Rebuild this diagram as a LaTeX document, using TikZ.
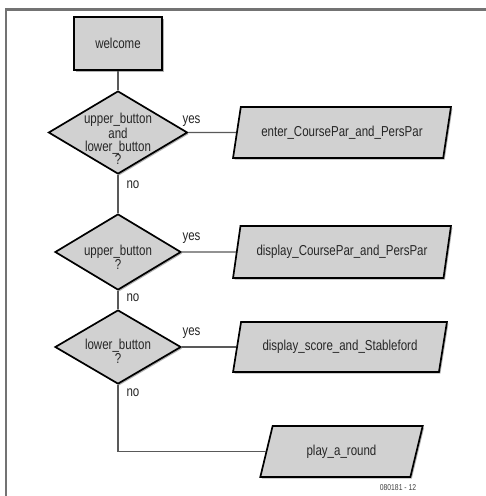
\documentclass[tikz,border=0pt]{standalone}
\usepackage{fontspec}
\setmainfont{Liberation Sans}[FakeStretch=0.8]
\usetikzlibrary{shapes.geometric,shadows}
\begin{document}
\begin{tikzpicture}[x=1pt,y=-1pt,
  txt/.style={font=\fontsize{14.4}{13.3}\selectfont, text=black!85, align=center, inner sep=0pt},
  txtq/.style={font=\fontsize{14.4}{10}\selectfont, text=black!85, align=center, inner sep=0pt},
  shp/.style={draw=black, line width=1.7pt, fill=black!18,
    drop shadow={shadow xshift=1.5pt, shadow yshift=-1.5pt, opacity=0.3, fill=black}},
  procbox/.style={shp, rectangle, minimum width=88pt, minimum height=53pt, inner sep=0pt},
  decision/.style={shp, diamond, inner sep=0pt},
  io/.style={shp, trapezium, trapezium left angle=65, trapezium right angle=115,
    trapezium stretches=true, inner sep=0pt, minimum height=51pt},
  conn/.style={draw=black!65, line width=1.1pt},
  lbl/.style={font=\fontsize{14.4}{14.4}\selectfont, text=black!85, inner sep=0pt},
  codelbl/.style={font=\fontsize{8.5}{8.5}\selectfont, text=black!75, inner sep=0pt}]
\useasboundingbox (0,0) rectangle (486,496);
\fill[white] (0,0) rectangle (486,496);
% frame
\draw[draw=black!55, line width=2.5pt] (6,497) -- (6,9.5) -- (487,9.5);

% shapes
\node[procbox, txt] (welcome) at (118,43.5) {welcome};

\node[decision, minimum width=139pt, minimum height=83pt] (d1) at (118,132.5) {};
\node[txt] (t1) at (118,139) {upper\_button\\and\\lower\_button\\?};

\node[decision, minimum width=126pt, minimum height=76pt] (d2) at (118,252) {};
\node[txtq] (t2) at (118,257) {upper\_button\\?};

\node[decision, minimum width=126pt, minimum height=74pt] (d3) at (118,347) {};
\node[txtq] (t3) at (118,351) {lower\_button\\?};

\node[io, txt, minimum width=218pt] (p1) at (342,132.5) {enter\_CoursePar\_and\_PersPar};
\node[io, txt, minimum width=218pt, minimum height=52pt] (p2) at (342,252) {display\_CoursePar\_and\_PersPar};
\node[io, txt, minimum width=214pt, minimum height=50pt] (p3) at (340,347) {display\_score\_and\_Stableford};
\node[io, txt, minimum width=163pt] (p4) at (341.5,451.5) {play\_a\_round};

% connectors
\draw[conn] (welcome) -- (d1);
\draw[conn] (d1) -- (d2);
\draw[conn] (d2) -- (d3);
\draw[conn] (d3) |- (p4);
\draw[conn] (d1) -- (p1);
\draw[conn] (d2) -- (p2);
\draw[conn] (d3) -- (p3);

% labels
\node[lbl] (y1) at (191.5,121) {yes};
\node[lbl] (y2) at (191.5,238) {yes};
\node[lbl] (y3) at (191.5,333) {yes};
\node[lbl] (n1) at (133,185) {no};
\node[lbl] (n2) at (133,298) {no};
\node[lbl] (n3) at (133,393) {no};
\node[codelbl] (code) at (398,488) {080181 - 12};
\end{tikzpicture}
\end{document}
